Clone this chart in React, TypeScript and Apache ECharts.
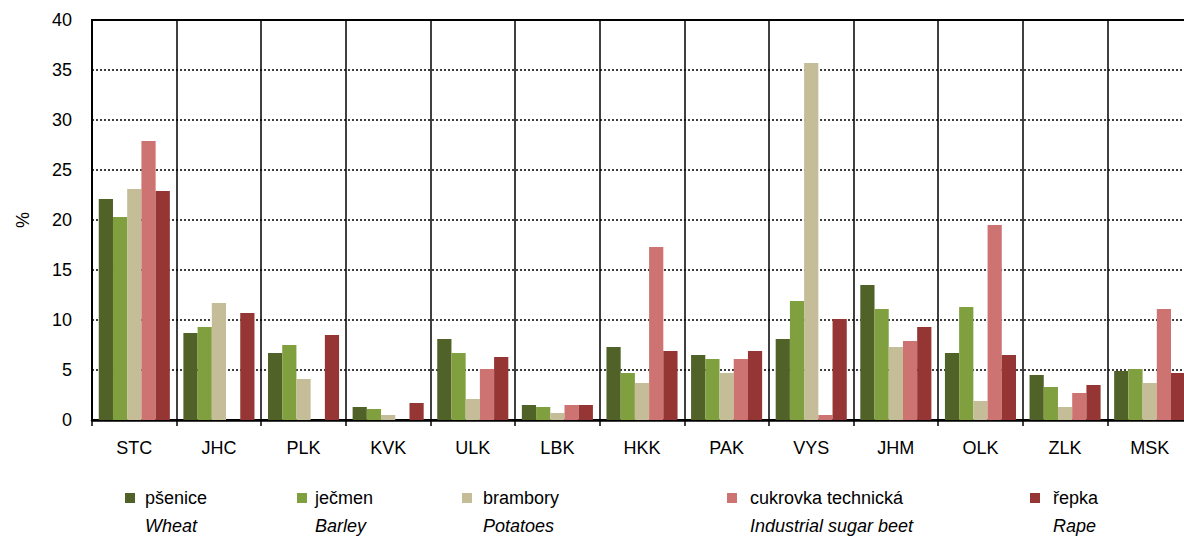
import React, { useEffect, useRef } from "react";
import * as echarts from "echarts";

const categories = ["STC", "JHC", "PLK", "KVK", "ULK", "LBK", "HKK", "PAK", "VYS", "JHM", "OLK", "ZLK", "MSK"];
const wheat = [22.1, 8.7, 6.7, 1.3, 8.1, 1.5, 7.3, 6.5, 8.1, 13.5, 6.7, 4.5, 4.9];
const barley = [20.3, 9.3, 7.5, 1.1, 6.7, 1.3, 4.7, 6.1, 11.9, 11.1, 11.3, 3.3, 5.1];
const potatoes = [23.1, 11.7, 4.1, 0.5, 2.1, 0.7, 3.7, 4.7, 35.7, 7.3, 1.9, 1.3, 3.7];
const sugarBeet = [27.9, null, null, null, 5.1, 1.5, 17.3, 6.1, 0.5, 7.9, 19.5, 2.7, 11.1];
const rape = [22.9, 10.7, 8.5, 1.7, 6.3, 1.5, 6.9, 6.9, 10.1, 9.3, 6.5, 3.5, 4.7];

const seriesNames = ["pšenice", "ječmen", "brambory", "cukrovka technická", "řepka"];
const seriesNamesEn = ["Wheat", "Barley", "Potatoes", "Industrial sugar beet", "Rape"];
const yTicks = [0, 5, 10, 15, 20, 25, 30, 35, 40];

const colors = ["#506228", "#80a040", "#c4bd97", "#cd7371", "#963634"];
const markerX = [125, 297, 462, 727, 1030];
const textX = [145, 315, 483, 750, 1053];

export default function App() {
  const ref = useRef<HTMLDivElement>(null);
  useEffect(() => {
    if (!ref.current) return;
    const chart = echarts.init(ref.current, undefined, { renderer: "svg" });
    const values = [wheat, barley, potatoes, sugarBeet, rape];
    const font = "'Liberation Sans', Arial, sans-serif";
    chart.setOption({
      animation: false,
      textStyle: { fontFamily: font },
      grid: {
        left: 92,
        top: 20,
        right: 2,
        bottom: 118,
        show: true,
        borderColor: "#000",
        borderWidth: 2,
        containLabel: false,
      },
      legend: seriesNames.map((n, i) => ({
        data: [n],
        left: markerX[i],
        top: 489,
        padding: 0,
        icon: "rect",
        itemWidth: 10,
        itemHeight: 10,
        selectedMode: false,
        textStyle: {
          fontFamily: font,
          fontSize: 18,
          color: "#000",
          padding: [0, 0, 0, textX[i] - markerX[i] - 15],
        },
      })),
      xAxis: {
        type: "category",
        data: categories,
        axisLine: { lineStyle: { color: "#000", width: 2.5 } },
        axisTick: { show: true, length: 6, interval: 0, lineStyle: { color: "#000", width: 1.5 } },
        axisLabel: { fontSize: 18, color: "#000", margin: 19, fontFamily: font, interval: 0 },
        splitLine: { show: true, interval: 0, lineStyle: { color: "#000", width: 1.5 } },
      },
      yAxis: {
        type: "value",
        min: yTicks[0],
        max: yTicks[yTicks.length - 1],
        interval: 5,
        name: "%",
        nameLocation: "middle",
        nameGap: 60,
        nameRotate: 90,
        nameTextStyle: { fontSize: 18, color: "#000", fontFamily: font },
        axisLine: { show: true, lineStyle: { color: "#000", width: 2 } },
        axisTick: { show: false },
        axisLabel: { fontSize: 18, color: "#000", margin: 20, fontFamily: font },
        splitLine: { show: true, lineStyle: { color: "#000", width: 1.5, type: [2, 2] } },
      },
      series: seriesNames.map((n, i) => ({
        name: n,
        type: "bar",
        data: values[i],
        barGap: "0%",
        barCategoryGap: "16%",
        itemStyle: { color: colors[i] },
      })),
      graphic: seriesNamesEn.map((t, i) => ({
        type: "text",
        left: textX[i],
        top: 517,
        style: {
          text: t,
          fontSize: 18,
          fontStyle: "italic",
          fontFamily: font,
          fill: "#000",
        },
      })),
    });
    return () => chart.dispose();
  }, []);
  return (
    <div style={{ position: "fixed", left: 0, top: 0, width: 1184, height: 538, overflow: "hidden", background: "#fff" }}>
      <div ref={ref} style={{ position: "absolute", left: 0, top: 0, width: 1194, height: 538 }} />
    </div>
  );
}
